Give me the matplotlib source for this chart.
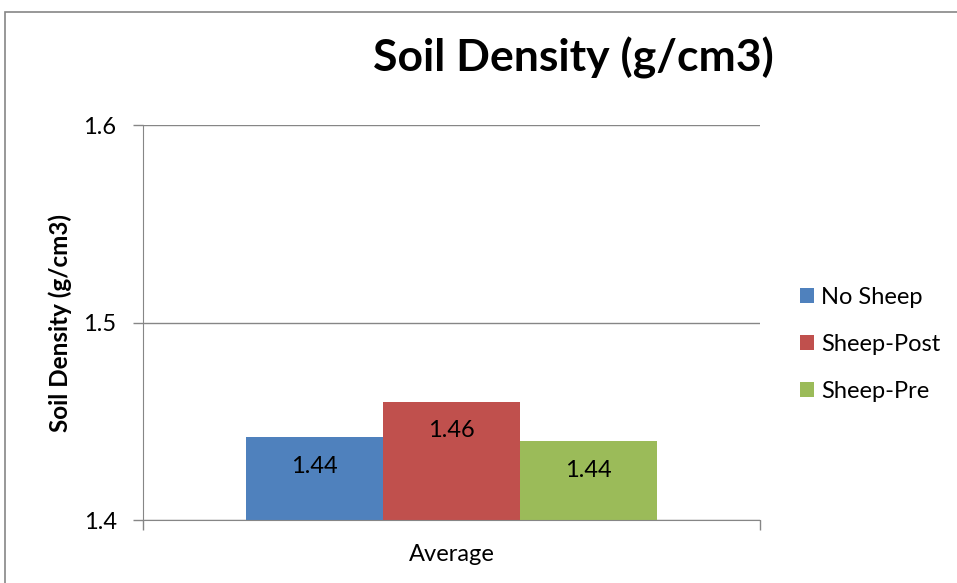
import matplotlib.pyplot as plt
from matplotlib.patches import Rectangle
import numpy as np

plt.rcParams['font.family'] = ['Lato', 'DejaVu Sans']

categories = ['Average']
series = ['No Sheep', 'Sheep-Post', 'Sheep-Pre']
values = [1.442, 1.460, 1.440]
labels = ['1.44', '1.46', '1.44']
colors = ['#4f81bd', '#c0504d', '#9bbb59']

fig = plt.figure(figsize=(9.57, 5.83), dpi=100)
ax = fig.add_axes([143/957, 63/583, (760-143)/957, (520-125)/583])

# outer chart border (only top and left visible)
fig.patches.append(Rectangle((5/957, -0.2), 1.2, 0.2 + (583-12)/583, transform=fig.transFigure,
                             fill=False, edgecolor='#868686', linewidth=1.2))

x = np.arange(len(categories))
width = 0.222
for i, (s, v) in enumerate(zip(series, values)):
    pos = x + (i - 1) * width
    ax.bar(pos, np.array([v]) - 1.4, width, bottom=1.4, color=colors[i], label=s)
    ax.annotate(labels[i], (pos[0], v), xytext=(0, -21), textcoords='offset points',
                ha='center', va='center', fontsize=17)

ax.set_ylim(1.4, 1.6)
ax.set_xlim(-0.5, 0.5)
ax.set_yticks([1.4, 1.5, 1.6])
ax.set_yticklabels(['1.4', '1.5', '1.6'], fontsize=17)
ax.set_xticks([-0.5, 0.5])
ax.set_xticklabels(['', ''])
ax.text(0.5, -0.088, categories[0], transform=ax.transAxes, ha='center', va='center', fontsize=17)
ax.yaxis.grid(True, color='#868686', linewidth=1)
ax.set_axisbelow(True)
for side in ['top', 'right']:
    ax.spines[side].set_visible(False)
for side in ['left', 'bottom']:
    ax.spines[side].set_color('#868686')
ax.tick_params(axis='both', color='#868686', length=7, width=1)
ax.tick_params(axis='y', pad=12)
ax.set_ylabel('Soil Density (g/cm3)', fontsize=17.5, fontweight='bold', labelpad=8)

fig.text(573/957, 1 - 58/583, 'Soil Density (g/cm3)', ha='center', va='center',
         fontsize=32, fontweight='bold')

ax.legend(loc='center left', bbox_to_anchor=(1.03, 0.445), frameon=False, fontsize=17,
          handlelength=0.6, handleheight=0.6, handletextpad=0.3, labelspacing=1.1)

fig.savefig('out.png', dpi=100)
